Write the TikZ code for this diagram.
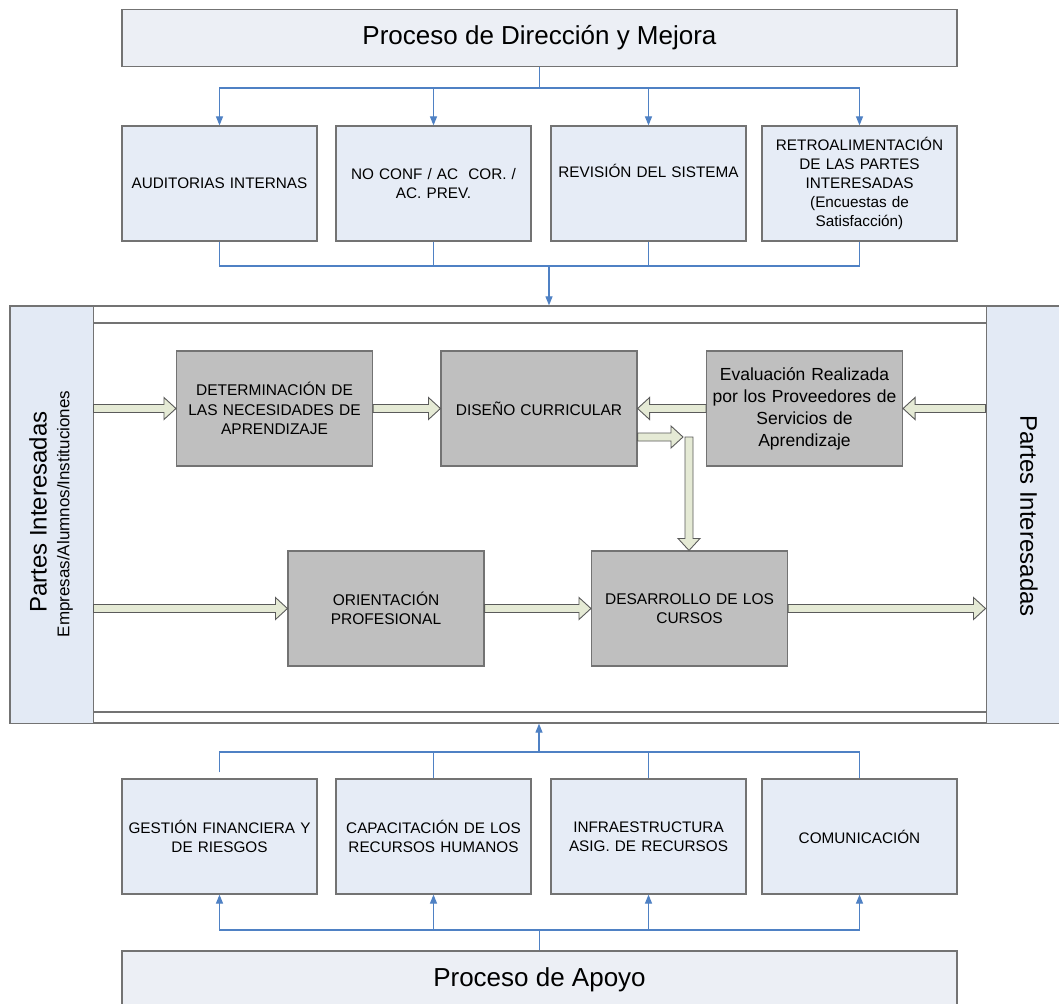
\documentclass[tikz,border=0pt]{standalone}
\usepackage{fontspec}
\setmainfont{Liberation Sans}
\usetikzlibrary{arrows.meta,calc}
\definecolor{bline}{RGB}{79,129,196}
\definecolor{procfill}{RGB}{236,239,245}
\definecolor{boxfill}{RGB}{230,236,246}
\definecolor{panelfill}{RGB}{227,234,245}
\definecolor{grayfill}{RGB}{191,191,191}
\definecolor{frameline}{RGB}{115,115,115}
\definecolor{arrfill}{RGB}{229,234,213}
\definecolor{arrline}{RGB}{90,90,90}
\tikzset{
  procbox/.style={draw=frameline, line width=1.3pt, fill=procfill, inner sep=0pt,
    font=\fontsize{26}{30}\selectfont},
  bluebox/.style={draw=frameline, line width=1.2pt, fill=boxfill, inner sep=0pt,
    minimum width=195pt, minimum height=115pt, text width=190pt, align=center,
    font=\fontsize{15.3}{19}\selectfont},
  graybox/.style={draw=frameline, line width=1.1pt, fill=grayfill, inner sep=0pt,
    minimum width=196pt, minimum height=115pt, text width=190pt, align=center,
    font=\fontsize{15.5}{19.5}\selectfont},
  panel/.style={draw=frameline, line width=1pt, fill=panelfill, inner sep=0pt},
  frame/.style={draw=frameline, line width=1.2pt},
  bl/.style={draw=bline, line width=1.2pt},
  blarr/.style={bl, -{Triangle[length=9pt,width=7pt]}},
  barrow/.style={draw=arrline, line width=0.9pt, fill=arrfill, line join=miter},
}
\newcommand\blockarr[2]{%
  \coordinate (baS) at (#1);
  \coordinate (baE) at (#2);
  \coordinate (baH) at ($(baE)!12pt!(baS)$);
  \draw[barrow] ($(baS)!4pt!90:(baE)$) -- ($(baH)!4pt!-90:(baS)$) -- ($(baH)!11pt!-90:(baS)$)
    -- (baE) -- ($(baH)!11pt!90:(baS)$) -- ($(baH)!4pt!90:(baS)$) -- ($(baS)!4pt!-90:(baE)$) -- cycle;
}
\begin{document}
\begin{tikzpicture}[x=1pt,y=-1pt]
\useasboundingbox (0,0) rectangle (1059,1003);
\clip (0,0) rectangle (1059,1003);
\fill[white] (0,0) rectangle (1059,1003);

% top process
\node[procbox, minimum width=835pt, minimum height=57pt] (top) at (539.5,38) {Proceso de Dirección y Mejora};

% upper boxes
\node[bluebox] (a1) at (219.5,183.5) {AUDITORIAS INTERNAS};
\node[bluebox] (a2) at (433.5,183.5) {NO CONF / AC\ \ COR. /\\AC. PREV.};
\node[bluebox] (a3) at (648.5,183.5) {REVISIÓN DEL SISTEMA\\\strut};
\node[bluebox] (a4) at (859.5,183.5) {RETROALIMENTACIÓN\\DE LAS PARTES\\INTERESADAS\\(Encuestas de\\Satisfacción)};

% main frame and panels
\node[draw=frameline, line width=1.3pt, fill=white, minimum width=1052pt, minimum height=417pt, inner sep=0pt] (main) at (536,514.5) {};
\node[panel, minimum width=83pt, minimum height=417pt] (lp) at (51.5,514.5) {};
\node[panel, minimum width=76pt, minimum height=417pt] (rp) at (1024,514.5) {};
\draw[frame] (lp.east |- 0,323) -- (rp.west |- 0,323);
\draw[frame] (lp.east |- 0,712) -- (rp.west |- 0,712);
\node[rotate=90, font=\fontsize{24}{28}\selectfont] (lpt) at (38,512) {Partes Interesadas};
\node[rotate=90, font=\fontsize{17}{20}\selectfont] (lps) at (65,514) {Empresas/Alumnos/Instituciones};
\node[rotate=-90, font=\fontsize{24}{28}\selectfont] (rpt) at (1029,516) {Partes Interesadas};

% gray process boxes
\node[graybox] (det) at (274.5,408.5) {DETERMINACIÓN DE\\LAS NECESIDADES DE\\APRENDIZAJE};
\node[graybox] (dis) at (539,408.5) {DISEÑO CURRICULAR};
\node[graybox, font=\fontsize{17.5}{22}\selectfont] (eva) at (804.5,408.5) {Evaluación Realizada\\por los Proveedores de\\Servicios de\\Aprendizaje};
\node[graybox] (ori) at (386,608.5) {ORIENTACIÓN\\PROFESIONAL};
\node[graybox] (des) at (689.5,608.5) {DESARROLLO DE LOS\\CURSOS};

% block arrows
\coordinate (jnL) at (683,437);
\coordinate (jn) at (689,437);
\blockarr{lp.east |- det.west}{det.west}
\blockarr{det.east}{dis.west}
\blockarr{eva.west}{dis.east}
\blockarr{rp.west |- eva.east}{eva.east}
\blockarr{dis.east |- jn}{jnL}
\blockarr{jn}{jn |- des.north}
\blockarr{lp.east |- ori.west}{ori.west}
\blockarr{ori.east}{des.west}
\blockarr{des.east}{rp.west |- des.east}

% upper connectors
\coordinate (bus1) at (539.5,88);
\foreach \b in {a1,a2,a3,a4} {\draw[blarr] (top.south) -- (bus1) -| (\b.north);}
\coordinate (bus2) at (549,266);
\foreach \b in {a1,a2,a3,a4} {\draw[bl] (\b.south) |- (bus2);}
\draw[blarr] (bus2) -- (bus2 |- main.north);

% lower boxes
\node[bluebox] (b1) at (219.5,836.5) {GESTIÓN FINANCIERA Y\\DE RIESGOS};
\node[bluebox] (b2) at (433.5,836.5) {CAPACITACIÓN DE LOS\\RECURSOS HUMANOS};
\node[bluebox] (b3) at (648.5,836.5) {INFRAESTRUCTURA\\ASIG. DE RECURSOS};
\node[bluebox] (b4) at (859.5,836.5) {COMUNICACIÓN};

\node[procbox, minimum width=835pt, minimum height=57pt] (ap) at (539.5,979.5) {Proceso de Apoyo};

% lower connectors
\coordinate (bus3) at (539,752);
\draw[bl] ([yshift=6pt]b1.north) |- (bus3);
\foreach \b in {b2,b3,b4} {\draw[bl] (\b.north) |- (bus3);}
\draw[blarr] (bus3) -- (bus3 |- main.south);
\coordinate (bus4) at (539.5,930);
\foreach \b in {b1,b2,b3,b4} {\draw[blarr] (ap.north) -- (bus4) -| (\b.south);}
\end{tikzpicture}
\end{document}
